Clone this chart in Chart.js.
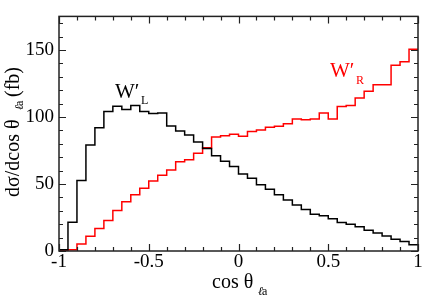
<!DOCTYPE html>
<html>
<head>
<meta charset="utf-8">
<script src="https://cdn.jsdelivr.net/npm/chart.js@4.4.0/dist/chart.umd.min.js"></script>
<style>
  html, body { margin: 0; padding: 0; background: #fff; }
  #wrap { width: 423px; height: 296px; }
</style>
</head>
<body>
<div id="wrap"><canvas id="cosChart" width="423" height="296"></canvas></div>
<script>
// 40 bins in cos(theta), width 0.05, from -1 to 1
const binLow = -1;
const binWidth = 0.05;

// W'_L (black)
const wLeft = [
  1, 21.5, 52.6, 79, 92, 104, 108, 105.6, 108.5, 104,
  102.5, 103, 93.3, 89.5, 86.5, 81.4, 76.5, 71, 67, 63,
  57.5, 54.2, 49.5, 46, 42, 38, 34.4, 31, 27.4, 26.3,
  24, 21.3, 20, 18, 15.4, 13.5, 11.2, 8.8, 7, 4.7
];
// W'_R (red)
const wRight = [
  0.5, 1, 5.3, 11, 16.7, 22.8, 30.2, 36.7, 42, 46.8,
  52.3, 56.5, 60.5, 66.5, 68, 73, 77, 85, 86, 87,
  85.6, 89.1, 90.2, 92.3, 93, 94.9, 98.4, 97.9, 98.4, 103,
  98.4, 107.7, 108.6, 114.2, 119.1, 124, 124, 138.6, 141.2, 150.5
];

const xTicks = [-1, -0.5, 0, 0.5, 1];
const yTicks = [0, 50, 100, 150];

const serif = "'Liberation Serif', 'DejaVu Serif', serif";

// step points at bin lower edges, plus closing point at x = 1
function toSteps(vals) {
  const pts = vals.map((v, i) => ({ x: Math.round((binLow + i * binWidth) * 100) / 100, y: v }));
  pts.push({ x: 1, y: vals[vals.length - 1] });
  return pts;
}

// frame with inward ticks on all four sides, plus titles and labels
const framePlugin = {
  id: 'frame',
  afterDraw(chart) {
    const { ctx, chartArea: a, scales } = chart;
    const xs = scales.x, ys = scales.y;
    ctx.save();
    ctx.strokeStyle = '#222';
    ctx.lineWidth = 1.5;
    ctx.strokeRect(a.left, a.top, a.right - a.left, a.bottom - a.top);

    ctx.lineWidth = 1.2;
    ctx.beginPath();
    for (let k = 0; k <= 20; k++) {
      const v = -1 + k * 0.1;
      const px = Math.round(xs.getPixelForValue(v)) + 0.5;
      const len = (k % 5 === 0) ? 7 : 4;
      ctx.moveTo(px, a.bottom); ctx.lineTo(px, a.bottom - len);
      ctx.moveTo(px, a.top); ctx.lineTo(px, a.top + len);
    }
    for (let v = 0; v <= 170; v += 10) {
      const py = Math.round(ys.getPixelForValue(v)) + 0.5;
      const len = (v % 50 === 0) ? 7 : 4;
      ctx.moveTo(a.left, py); ctx.lineTo(a.left + len, py);
      ctx.moveTo(a.right, py); ctx.lineTo(a.right - len, py);
    }
    ctx.stroke();

    ctx.fillStyle = '#000';
    ctx.textBaseline = 'alphabetic';
    ctx.textAlign = 'left';

    // x title: cos θ_ℓa
    ctx.font = '20px ' + serif;
    ctx.fillText('cos θ', 212, 288);
    ctx.font = 'italic 12px ' + serif;
    ctx.fillText('ℓ', 258, 295);
    ctx.font = '12px ' + serif;
    ctx.fillText('a', 262, 295);

    // y title, rotated
    ctx.save();
    ctx.translate(19, 0);
    ctx.rotate(-Math.PI / 2);
    ctx.font = '20px ' + serif;
    ctx.fillText('dσ/dcos θ', -197, 0);
    ctx.font = 'italic 12px ' + serif;
    ctx.fillText('ℓ', -110, 4);
    ctx.font = '12px ' + serif;
    ctx.fillText('a', -106, 4);
    ctx.font = '20px ' + serif;
    ctx.fillText('(fb)', -97, 0);
    ctx.restore();

    // series labels, anchored in data space
    const lx = xs.getPixelForValue(-0.688), ly = ys.getPixelForValue(114.4);
    ctx.font = '21px ' + serif;
    ctx.fillText('W′', lx, ly);
    ctx.font = '12px ' + serif;
    ctx.fillText('L', lx + 26, ly + 6);

    const rx = xs.getPixelForValue(0.51), ry = ys.getPixelForValue(129.8);
    ctx.fillStyle = '#ff0000';
    ctx.font = '21px ' + serif;
    ctx.fillText('W′', rx, ry);
    ctx.font = '12px ' + serif;
    ctx.fillText('R', rx + 26, ry + 7);
    ctx.restore();
  }
};

const ctx = document.getElementById('cosChart').getContext('2d');
const cosChart = new Chart(ctx, {
  type: 'line',
  data: {
    datasets: [
      {
        label: "W'L",
        data: toSteps(wLeft),
        borderColor: '#000000',
        borderWidth: 1.5,
        stepped: 'before',
        pointRadius: 0,
        fill: false
      },
      {
        label: "W'R",
        data: toSteps(wRight),
        borderColor: '#ff0000',
        borderWidth: 1.5,
        stepped: 'before',
        pointRadius: 0,
        fill: false
      }
    ]
  },
  options: {
    responsive: false,
    animation: false,
    devicePixelRatio: 1,
    layout: { padding: { top: 1, right: 5, left: 0, bottom: 0 } },
    scales: {
      x: {
        type: 'linear',
        min: -1,
        max: 1,
        afterBuildTicks: s => { s.ticks = xTicks.map(v => ({ value: v })); },
        afterFit: s => { s.height = 45; },
        ticks: {
          autoSkip: false,
          maxRotation: 0,
          padding: 0,
          color: '#000',
          font: { family: serif, size: 19 },
          callback: v => String(v)
        },
        grid: { display: false, drawTicks: false },
        border: { display: false }
      },
      y: {
        min: 0,
        max: 175,
        afterBuildTicks: s => { s.ticks = yTicks.map(v => ({ value: v })); },
        afterFit: s => { s.width = 59; },
        ticks: {
          padding: 5,
          color: '#000',
          font: { family: serif, size: 19 },
          callback: v => String(v)
        },
        grid: { display: false, drawTicks: false },
        border: { display: false }
      }
    },
    plugins: {
      legend: { display: false },
      tooltip: { enabled: false }
    }
  },
  plugins: [framePlugin]
});
</script>
</body>
</html>
